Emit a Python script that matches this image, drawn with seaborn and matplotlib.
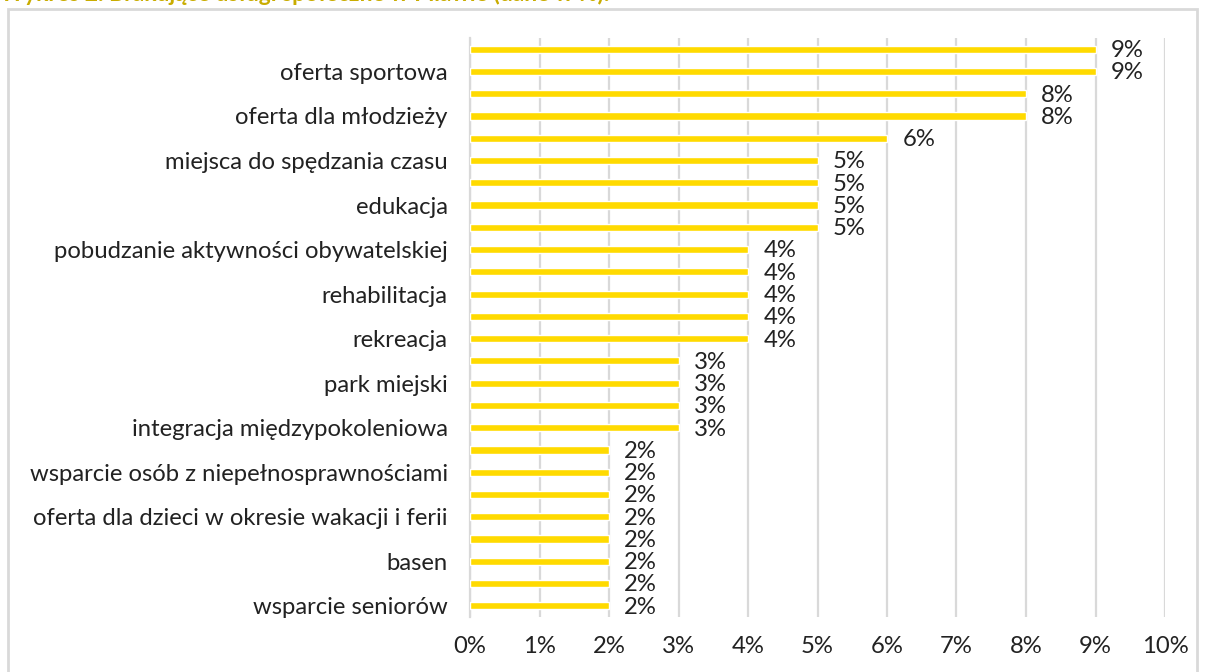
import pandas as pd
import seaborn as sns
import matplotlib.pyplot as plt
from matplotlib.patches import Rectangle

# Data (percent), top to bottom
values = [9, 9, 8, 8, 6, 5, 5, 5, 5, 4, 4, 4, 4, 4, 3, 3, 3, 3, 2, 2, 2, 2, 2, 2, 2, 2]
# Excel shows every second category label only
shown_labels = ["", "oferta sportowa",
                "", "oferta dla młodzieży",
                "", "miejsca do spędzania czasu",
                "", "edukacja",
                "", "pobudzanie aktywności obywatelskiej",
                "", "rehabilitacja",
                "", "rekreacja",
                "", "park miejski",
                "", "integracja międzypokoleniowa",
                "", "wsparcie osób z niepełnosprawnościami",
                "", "oferta dla dzieci w okresie wakacji i ferii",
                "", "basen",
                "", "wsparcie seniorów"]
x_ticks = list(range(0, 11))
title = "Wykres 2. Brakujące usługi społeczne w Pilawie (dane w %)."

df = pd.DataFrame({"id": [str(i) for i in range(len(values))], "value": values})

sns.set_style("white")
plt.rcParams["font.family"] = ["Lato", "DejaVu Sans"]

fig = plt.figure(figsize=(12.05, 6.72), dpi=100)
ax = fig.add_axes([470 / 1205, 1 - 617 / 672, 695 / 1205, 579 / 672])

sns.barplot(data=df, x="value", y="id", color="#FFDA00", width=0.32,
            saturation=1, ax=ax, zorder=3)

fs = 17.2
ax.set_xlim(0, 10)
ax.set_xticks(x_ticks)
ax.set_xticklabels([f"{t}%" for t in x_ticks], fontsize=fs, color="#222222")
ax.set_yticks(range(len(values)))
ax.set_yticklabels(shown_labels, fontsize=fs, color="#222222")
ax.tick_params(axis="x", length=0, pad=14)
ax.tick_params(axis="y", length=0, pad=16)
ax.set_xlabel("")
ax.set_ylabel("")

ax.grid(axis="x", color="#D9D9D9", linewidth=1.6, zorder=0)
ax.grid(axis="y", visible=False)
for s in ["top", "right", "bottom"]:
    ax.spines[s].set_visible(False)
ax.spines["left"].set_color("#D9D9D9")
ax.spines["left"].set_linewidth(1.6)

for i, v in enumerate(values):
    ax.annotate(f"{v}%", xy=(v, i), xytext=(11, -1), textcoords="offset points",
                va="center", ha="left", fontsize=fs, color="#222222",
                annotation_clip=False)

# outer chart border
fig.patches.append(Rectangle((8 / 1205, -0.05), 1189 / 1205, 1 - 9 / 672 + 0.05,
                             transform=fig.transFigure, fill=False,
                             edgecolor="#D9D9D9", linewidth=2))

# title partly clipped at the top edge
fig.text(0.0, 1.0 - 1 / 672, title, fontsize=16.5, fontweight="bold",
         color="#C9AC00", ha="left", va="baseline")

fig.savefig("out.png", dpi=100)
